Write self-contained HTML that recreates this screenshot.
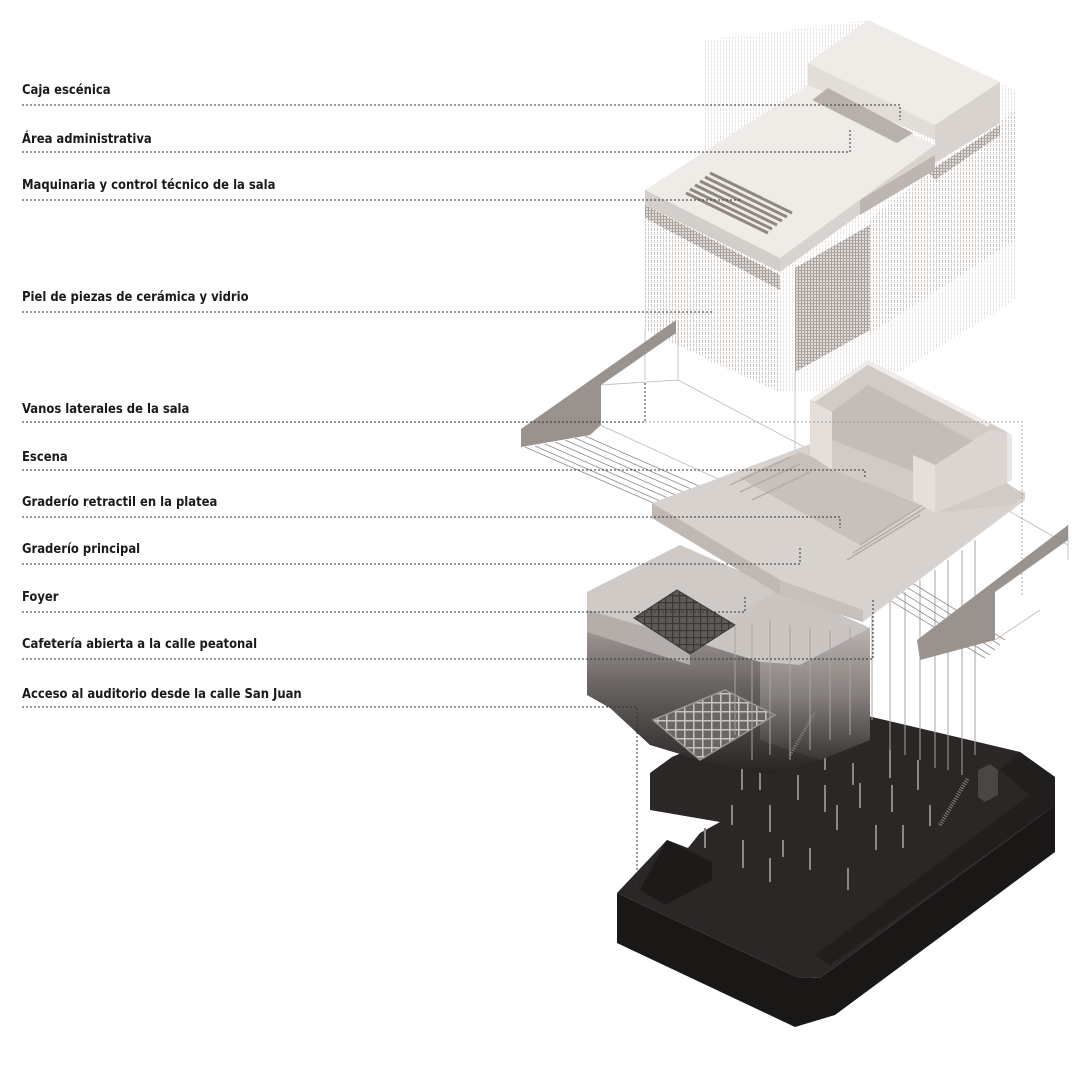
<!DOCTYPE html>
<html><head><meta charset="utf-8"><style>
html,body{margin:0;padding:0;background:#fff;}
svg{display:block}
text{font-family:"DejaVu Sans Condensed","Liberation Sans",sans-serif;font-weight:bold;font-size:12.9px;fill:#1a1a1a}
.d{stroke:#333;stroke-width:1;stroke-dasharray:2 2;fill:none}
.t{stroke:#bdb7b3;stroke-width:0.8;fill:none}
</style></head><body>
<svg width="1080" height="1080" viewBox="0 0 1080 1080" xmlns="http://www.w3.org/2000/svg">
<defs>
<pattern id="vh" width="3" height="4" patternUnits="userSpaceOnUse"><rect width="1" height="3" fill="#cfc8c2"/></pattern>
<pattern id="mesh" width="3" height="3" patternUnits="userSpaceOnUse"><rect width="3" height="3" fill="#e2dcd8"/><rect width="1" height="3" fill="#a39b96"/><rect width="3" height="1" fill="#b0a8a3"/></pattern>
<pattern id="grid" width="9" height="9" patternUnits="userSpaceOnUse"><rect width="9" height="9" fill="#6a6664"/><rect width="1.5" height="9" fill="#c8c4c1"/><rect width="9" height="1.5" fill="#c8c4c1"/></pattern>
<pattern id="grid2" width="7" height="7" patternUnits="userSpaceOnUse"><rect width="7" height="7" fill="#5e5a58"/><rect width="1.2" height="7" fill="#3a3837"/><rect width="7" height="1.2" fill="#3a3837"/></pattern>
<linearGradient id="fg" x1="0" y1="0" x2="0" y2="1">
<stop offset="0" stop-color="#cfcac6"/><stop offset="0.35" stop-color="#a19b97"/><stop offset="0.6" stop-color="#6b6664"/><stop offset="1" stop-color="#252322"/></linearGradient>
<linearGradient id="fg2" x1="0" y1="0" x2="0" y2="1">
<stop offset="0" stop-color="#bdb7b3"/><stop offset="0.5" stop-color="#8a8481"/><stop offset="1" stop-color="#3a3736"/></linearGradient>
</defs>

<!-- ===== DARK BASE ===== -->
<!-- front/side faces -->
<polygon points="617,893 797,977 820,978 1055,805 1055,852 835,1015 795,1027 617,943" fill="#1a1817"/>
<!-- top face -->
<polygon points="617,893 667,840 688,848 700,833 720,822 650,810 650,773 672,757 700,745 800,700 1020,752 1055,777 1055,805 820,978 797,977" fill="#2a2726"/>
<!-- rim -->
<polygon points="1020,752 1055,777 1055,805 830,965 815,955 1030,795 1000,770" fill="#211f1e"/>
<polygon points="667,840 712,862 712,880 665,905 640,890" fill="#1d1b1a"/>
<polygon points="978,770 990,764 998,770 998,795 985,802 978,797" fill="#4a4644"/>
<line x1="940" y1="825" x2="968" y2="778" stroke="#8a8582" stroke-width="4" stroke-dasharray="1 1.5"/>
<g stroke="#8d8885" stroke-width="2">
<line x1="705" y1="828" x2="705" y2="848"/><line x1="743" y1="840" x2="743" y2="868"/><line x1="770" y1="858" x2="770" y2="882"/><line x1="742" y1="767" x2="742" y2="790"/><line x1="770" y1="805" x2="770" y2="832"/><line x1="810" y1="848" x2="810" y2="870"/><line x1="837" y1="805" x2="837" y2="830"/><line x1="876" y1="825" x2="876" y2="850"/><line x1="860" y1="783" x2="860" y2="808"/><line x1="825" y1="785" x2="825" y2="812"/><line x1="798" y1="775" x2="798" y2="800"/><line x1="892" y1="785" x2="892" y2="812"/><line x1="903" y1="825" x2="903" y2="848"/><line x1="890" y1="750" x2="890" y2="778"/><line x1="918" y1="760" x2="918" y2="790"/><line x1="825" y1="745" x2="825" y2="770"/><line x1="853" y1="763" x2="853" y2="785"/><line x1="930" y1="805" x2="930" y2="826"/><line x1="783" y1="840" x2="783" y2="857"/><line x1="848" y1="868" x2="848" y2="890"/><line x1="760" y1="765" x2="760" y2="790"/><line x1="732" y1="805" x2="732" y2="825"/></g>

<!-- ===== FOYER BLOCK ===== -->
<polygon points="587,592 680,545 870,628 870,740 820,760 770,775 700,760 650,745 610,708 587,695" fill="url(#fg)"/>
<polygon points="587,592 680,545 780,590 690,640 587,610" fill="#cfcac6"/>
<polygon points="587,610 690,640 690,665 587,632" fill="#b4aeaa"/>
<polygon points="690,640 780,590 870,628 800,665 760,662" fill="#cac5c1"/>
<polygon points="760,662 800,665 870,628 870,740 820,760 760,740" fill="url(#fg2)" opacity="0.9"/>
<polygon points="634,618 677,590 735,625 690,654" fill="url(#grid2)" stroke="#3a3837" stroke-width="1"/>
<polygon points="653,720 725,690 775,715 700,760" fill="url(#grid)" stroke="#9a9694" stroke-width="1.5"/>
<line x1="790" y1="755" x2="815" y2="712" stroke="#8a8582" stroke-width="3" stroke-dasharray="1 1.5"/>

<!-- columns -->
<g stroke="#a9a4a1" stroke-width="1">
<line x1="770" y1="620" x2="770" y2="755"/><line x1="790" y1="625" x2="790" y2="760"/><line x1="810" y1="628" x2="810" y2="750"/><line x1="830" y1="630" x2="830" y2="740"/><line x1="850" y1="628" x2="850" y2="735"/><line x1="872" y1="610" x2="872" y2="720"/>
<line x1="890" y1="600" x2="890" y2="750"/><line x1="905" y1="592" x2="905" y2="755"/><line x1="920" y1="580" x2="920" y2="760"/><line x1="935" y1="570" x2="935" y2="768"/><line x1="948" y1="560" x2="948" y2="770"/><line x1="962" y1="550" x2="962" y2="775"/><line x1="975" y1="540" x2="975" y2="755"/><line x1="752" y1="625" x2="752" y2="760"/><line x1="735" y1="625" x2="735" y2="735"/>
</g>

<!-- ===== TOP BLOCK ===== -->
<polygon points="705,40 868,20 1015,90 1015,300 870,390 780,392 705,360" fill="url(#vh)" opacity="0.5"/>
<polygon points="645,190 780,262 780,392 645,330" fill="url(#vh)"/>
<polygon points="868,220 1015,110 1015,240 868,335" fill="url(#vh)"/>
<polygon points="795,268 870,225 870,330 795,372" fill="url(#mesh)"/>
<polygon points="645,205 780,275 780,290 645,218" fill="url(#mesh)"/>
<polygon points="928,172 1000,125 1000,135 935,180" fill="url(#mesh)"/>
<!-- upper box -->
<polygon points="808,63 868,20 1000,82 935,125" fill="#efebe6"/>
<polygon points="935,125 1000,82 1000,123 935,163" fill="#d9d3cf"/>
<polygon points="808,63 935,125 935,140 808,85" fill="#e3ddd8"/>
<!-- lower roof -->
<polygon points="645,190 808,85 935,145 780,258" fill="#efebe6"/>
<polygon points="645,190 780,258 780,272 645,205" fill="#d4ceca"/>
<polygon points="780,258 935,145 935,160 780,272" fill="#d9d3cf"/>
<polygon points="860,200 935,155 935,170 860,215" fill="#bcb5b0"/>
<polygon points="812,100 828,88 913,133 897,143" fill="#b7b0ab"/>
<g stroke="#8f8782" stroke-width="3">
<line x1="710" y1="173" x2="792" y2="213"/><line x1="705" y1="177" x2="787" y2="217"/><line x1="700" y1="181" x2="782" y2="221"/><line x1="695" y1="185" x2="777" y2="225"/><line x1="690" y1="189" x2="772" y2="229"/><line x1="686" y1="193" x2="768" y2="233"/></g>

<!-- outline lines of wings -->
<g class="t">
<polyline points="678,320 678,380 810,450"/><polyline points="600,385 678,380"/><line x1="600" y1="425" x2="830" y2="530"/>
<line x1="645" y1="330" x2="645" y2="380"/><line x1="795" y1="372" x2="795" y2="450"/>
<line x1="1068" y1="525" x2="1068" y2="560"/><line x1="990" y1="500" x2="1068" y2="545"/>
<line x1="995" y1="640" x2="1040" y2="610"/>
</g>
<g stroke="#8f8985" stroke-width="0.8">
<line x1="525" y1="447" x2="830" y2="580"/><line x1="535" y1="446" x2="840" y2="580"/><line x1="545" y1="444" x2="850" y2="578"/><line x1="555" y1="442" x2="860" y2="576"/><line x1="565" y1="440" x2="870" y2="574"/><line x1="575" y1="438" x2="880" y2="572"/><line x1="585" y1="436" x2="890" y2="570"/>
<line x1="850" y1="545" x2="1005" y2="640"/><line x1="850" y1="552" x2="1000" y2="645"/><line x1="850" y1="560" x2="995" y2="650"/><line x1="850" y1="568" x2="990" y2="655"/><line x1="850" y1="576" x2="985" y2="658"/>
</g>
<!-- left wing -->
<polygon points="521,429 676,320 676,333 601,385 601,425 590,435 521,447" fill="#9a928d"/>
<!-- right wing -->
<polygon points="917,640 1068,525 1068,540 995,592 995,640 920,660" fill="#9a928d"/>

<!-- ===== AUDITORIUM ===== -->
<polygon points="652,503 813,443 1025,492 1025,500 863,622 780,595 652,518" fill="#d8d2ce"/>
<polygon points="652,503 780,580 780,595 652,518" fill="#bfb8b3"/>
<polygon points="780,580 863,610 863,622 780,595" fill="#c6bfba"/>
<polygon points="740,478 800,452 920,505 860,545" fill="#c7c0bb"/>
<g stroke="#b3aba6" stroke-width="1.5">
<line x1="730" y1="485" x2="790" y2="457"/><line x1="740" y1="492" x2="800" y2="464"/><line x1="752" y1="500" x2="810" y2="472"/>
<line x1="860" y1="545" x2="930" y2="500"/><line x1="853" y1="553" x2="925" y2="508"/><line x1="847" y1="560" x2="920" y2="515"/>
</g>
<polygon points="810,400 868,360 990,423 1007,432 1007,483 1025,495 1012,505 935,513 913,500 832,470 810,455" fill="#d1cac5"/>
<polygon points="832,412 868,385 990,450 935,480 832,440" fill="#c4bcb7"/>
<polygon points="810,400 832,412 832,470 810,455" fill="#e4dfdb"/>
<polygon points="810,400 868,360 872,362 815,402" fill="#efebe7"/>
<polygon points="868,360 990,423 988,427 868,365" fill="#efebe7"/>
<polygon points="913,455 935,465 935,513 913,500" fill="#e4dfdb"/>
<polygon points="935,465 990,430 1007,432 1007,483 935,513" fill="#dbd5d1"/>
<polygon points="1007,432 1007,483 1012,480 1012,435" fill="#ebe6e2"/>

<!-- ===== LEADERS ===== -->
<g class="d">
<polyline points="22,105 900,105 900,120"/>
<polyline points="22,152 850,152 850,128"/>
<polyline points="22,200 740,200"/>
<polyline points="22,312 712,312"/>
<polyline points="22,422 645,422 645,382"/>
<polyline points="645,422 1022,422 1022,595" style="stroke:#888;stroke-width:0.7"/>
<polyline points="22,470 865,470 865,477"/>
<polyline points="22,517 840,517 840,528"/>
<polyline points="22,564 800,564 800,547"/>
<polyline points="22,612 745,612 745,595"/>
<polyline points="22,659 873,659 873,600"/>
<polyline points="22,707 637,707 637,888"/>
</g>
<text x="22" y="94">Caja escénica</text>
<text x="22" y="143">Área administrativa</text>
<text x="22" y="189">Maquinaria y control técnico de la sala</text>
<text x="22" y="301">Piel de piezas de cerámica y vidrio</text>
<text x="22" y="413">Vanos laterales de la sala</text>
<text x="22" y="461">Escena</text>
<text x="22" y="506">Graderío retractil en la platea</text>
<text x="22" y="553">Graderío principal</text>
<text x="22" y="601">Foyer</text>
<text x="22" y="648">Cafetería abierta a la calle peatonal</text>
<text x="22" y="698">Acceso al auditorio desde la calle San Juan</text>
</svg>
</body></html>
